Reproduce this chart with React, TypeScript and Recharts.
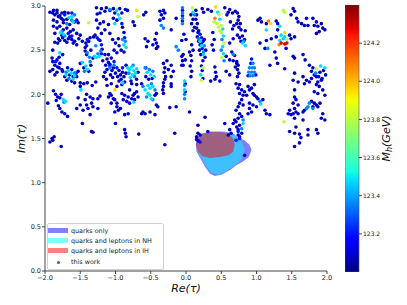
import React from 'react';
import {
  ScatterChart,
  BarChart,
  Bar,
  Scatter,
  XAxis,
  YAxis,
  Legend,
  Curve,
} from 'recharts';

type Pt = [number, number];

const FONT = '"DejaVu Sans", sans-serif';

const xTicks = [-2, -1.5, -1, -0.5, 0, 0.5, 1, 1.5, 2];
const yTicks = [0, 0.5, 1, 1.5, 2, 2.5, 3];
const cbTicks = [123.2, 123.4, 123.6, 123.8, 124.0, 124.2];
const cbMin = 123.0;
const cbMax = 124.4;

const legendLabels = ['quarks only', 'quarks and leptons in NH', 'quarks and leptons in IH', 'this work'];

// allowed regions from earlier fits (Re tau, Im tau)
const quarksOnlyEdge: Pt[] = [
  [0.14, 1.43], [0.15, 1.5], [0.2, 1.55], [0.34, 1.58], [0.53, 1.58], [0.67, 1.56], [0.75, 1.5],
  [0.83, 1.48], [0.9, 1.43], [0.93, 1.37], [0.89, 1.29], [0.81, 1.24], [0.72, 1.2], [0.62, 1.14],
  [0.5, 1.09], [0.41, 1.075], [0.34, 1.1], [0.27, 1.18], [0.2, 1.28], [0.15, 1.35],
];
const nhEdge: Pt[] = [
  [0.15, 1.43], [0.17, 1.52], [0.24, 1.56], [0.38, 1.565], [0.57, 1.565], [0.69, 1.54], [0.79, 1.46],
  [0.83, 1.39], [0.82, 1.31], [0.76, 1.24], [0.67, 1.18], [0.55, 1.12], [0.46, 1.09], [0.36, 1.11],
  [0.29, 1.18], [0.22, 1.28], [0.16, 1.35],
];
const ihEdge: Pt[] = [
  [0.14, 1.43], [0.16, 1.5], [0.22, 1.55], [0.34, 1.57], [0.48, 1.57], [0.6, 1.56], [0.67, 1.5],
  [0.69, 1.43], [0.67, 1.35], [0.6, 1.31], [0.48, 1.29], [0.34, 1.28], [0.23, 1.3], [0.17, 1.35],
];

// scan points, grouped by their M_h colour
const navyPts: Pt[] = [
  [-1.93, 2.93], [-1.89, 2.92], [-1.83, 2.92], [-1.76, 2.92], [-1.72, 2.93], [-1.88, 2.95], [-1.83, 2.95],
  [-1.79, 2.89], [-1.86, 2.9], [-1.81, 2.88], [-1.88, 2.84], [-1.83, 2.82], [-1.77, 2.86], [-1.74, 2.84],
  [-1.69, 2.85], [-1.67, 2.92], [-1.58, 2.82], [-1.53, 2.81], [-1.65, 2.79], [-1.74, 2.81], [-1.88, 2.77],
  [-1.83, 2.75], [-1.79, 2.77], [-1.74, 2.73], [-1.69, 2.75], [-1.64, 2.71], [-1.6, 2.73], [-1.55, 2.69],
  [-1.5, 2.67], [-1.86, 2.69], [-1.76, 2.67], [-1.67, 2.63], [-1.62, 2.62], [-1.81, 2.63], [-1.75, 2.64],
  [-1.72, 2.61], [-1.65, 2.65], [-1.69, 2.59], [-1.6, 2.58], [-1.58, 2.6], [-1.55, 2.56], [-1.79, 2.61],
  [-1.82, 2.58], [-1.52, 2.63], [-1.47, 2.6], [-1.86, 2.59], [-1.89, 2.5],
  [-1.9, 2.41], [-1.89, 2.37], [-1.83, 2.39], [-1.8, 2.42], [-1.86, 2.33], [-1.82, 2.31], [-1.79, 2.35],
  [-1.89, 2.28], [-1.83, 2.25], [-1.76, 2.28], [-1.75, 2.45], [-1.8, 2.3], [-1.75, 2.26], [-1.68, 2.3],
  [-1.65, 2.22], [-1.55, 2.2], [-1.53, 2.26], [-1.72, 2.2], [-1.69, 2.16], [-1.62, 2.15], [-1.58, 2.13],
  [-1.5, 2.13], [-1.86, 2.22], [-1.93, 2.26],
  [-1.88, 2.04], [-1.85, 2.0], [-1.82, 1.97], [-1.79, 1.96], [-1.84, 1.93], [-1.77, 2.0], [-1.96, 1.9],
  [-1.81, 1.87], [-1.79, 1.84], [-1.76, 1.8], [-1.72, 1.78], [-1.68, 1.75], [-1.9, 1.5], [-1.89, 1.48],
  [-1.93, 1.46], [-1.87, 1.52], [-1.77, 1.41], [-1.47, 1.67], [-1.34, 1.58], [-1.32, 1.57], [-1.5, 2.09],
  [-1.45, 2.12], [-1.4, 2.13], [-1.33, 2.1], [-1.28, 2.14], [-1.41, 2.0], [-1.43, 1.94], [-1.41, 1.88],
  [-1.39, 1.84], [-1.34, 1.9], [-1.32, 1.86], [-1.46, 1.82], [-1.55, 1.84], [-1.5, 1.88], [-1.36, 1.97],
  [-1.32, 1.95], [-1.25, 1.95], [-1.22, 1.98], [-1.25, 1.84], [-1.53, 1.96], [-1.36, 1.77],
  [-1.27, 2.98], [-1.2, 2.97], [-1.13, 2.98], [-1.22, 2.92], [-1.15, 2.94], [-1.08, 2.95], [-1.27, 2.84],
  [-1.22, 2.8], [-1.17, 2.82], [-1.25, 2.75], [-1.15, 2.73], [-1.1, 2.79], [-1.08, 2.69], [-1.2, 2.69],
  [-1.29, 2.67], [-1.26, 2.91], [-1.43, 2.53], [-1.42, 2.58], [-1.36, 2.64], [-1.31, 2.65], [-1.22, 2.61],
  [-1.19, 2.51], [-1.32, 2.41], [-1.41, 2.45], [-1.43, 2.49], [-1.35, 2.5], [-1.38, 2.6], [-1.5, 2.35],
  [-1.45, 2.3], [-1.38, 2.26], [-1.35, 2.33],
  [-1.03, 2.97], [-0.94, 2.97], [-1.01, 2.92], [-0.91, 2.92], [-1.03, 2.86], [-0.98, 2.84], [-0.86, 2.96],
  [-0.83, 2.95], [-0.75, 2.82], [-0.73, 2.78], [-0.9, 2.76], [-0.88, 2.7], [-1.04, 2.62], [-1.0, 2.58],
  [-0.95, 2.55], [-0.92, 2.5], [-1.02, 2.5], [-0.98, 2.47], [-0.88, 2.48], [-0.96, 2.63], [-0.6, 2.9],
  [-0.57, 2.93],
  [-1.15, 2.45], [-1.12, 2.4], [-1.1, 2.36], [-1.12, 2.28], [-1.15, 2.25], [-1.05, 2.27], [-1.07, 2.22],
  [-1.03, 2.3], [-1.1, 2.45], [-1.06, 2.41], [-1.14, 2.33], [-1.17, 2.2], [-1.13, 2.17], [-1.04, 2.19],
  [-1.0, 2.24], [-0.97, 2.2], [-0.93, 2.22], [-0.95, 2.27], [-0.9, 2.25], [-0.92, 2.17], [-0.88, 2.2],
  [-0.85, 2.24], [-0.95, 2.15], [-0.85, 2.33], [-0.68, 2.25], [-0.7, 2.17], [-0.78, 2.15], [-1.08, 2.34],
  [-1.18, 2.38],
  [-1.08, 2.01], [-1.06, 1.99], [-1.1, 1.97], [-1.03, 1.95], [-1.01, 1.94], [-1.06, 1.9], [-0.98, 1.86],
  [-0.96, 1.82], [-1.01, 1.8], [-0.91, 2.01], [-0.87, 1.99], [-0.82, 1.97], [-0.89, 1.94], [-0.84, 1.92],
  [-0.8, 1.9], [-0.77, 1.95], [-0.75, 1.99], [-0.73, 2.01], [-0.7, 2.03], [-0.68, 1.97], [-0.73, 1.94],
  [-0.8, 2.05], [-0.91, 2.11], [-0.98, 2.09], [-0.87, 2.14], [-0.77, 2.12], [-0.7, 2.11], [-1.06, 2.12],
  [-0.82, 1.78], [-0.87, 1.77], [-1.12, 2.1], [-0.98, 1.9], [-0.93, 1.84], [-1.0, 1.67], [-0.87, 1.6],
  [-0.86, 1.56], [-0.85, 1.52], [-0.67, 1.55],
  [-0.63, 2.12], [-0.44, 1.99], [-0.42, 2.01], [-0.42, 1.88], [-0.4, 1.86], [-0.61, 1.8], [-0.58, 1.78],
  [-0.63, 1.78], [-0.51, 1.8], [-0.44, 1.77], [-0.57, 2.2], [-0.53, 2.17], [-0.48, 2.18], [-0.57, 2.3],
  [-0.58, 2.63], [-0.54, 2.6], [-0.56, 2.54], [-0.44, 2.62], [-0.42, 2.58], [-0.47, 2.56], [-0.4, 2.54],
  [-0.42, 2.52], [-0.42, 2.69], [-0.37, 2.94], [-0.35, 2.9], [-0.32, 2.86], [-0.37, 2.84], [-0.3, 2.92],
  [-0.32, 2.95],
  [-0.32, 2.13], [-0.32, 2.09], [-0.33, 2.05], [-0.32, 2.01], [-0.21, 2.12], [-0.21, 2.09], [-0.32, 2.35],
  [-0.3, 2.3], [-0.31, 2.25], [-0.29, 2.2], [-0.3, 2.17], [-0.21, 2.33], [-0.18, 2.26], [-0.21, 2.2],
  [-0.04, 2.45], [-0.01, 2.39], [-0.04, 2.33], [-0.23, 1.85], [-0.14, 1.86], [-0.3, 1.43], [-0.16, 1.56],
  [-0.27, 2.38], [-0.25, 2.28], [-0.21, 2.73], [-0.14, 2.86], [-0.06, 2.61], [-0.01, 2.12], [-0.01, 2.03],
  [-0.06, 2.43], [-0.05, 2.38], [-0.06, 2.33], [-0.03, 2.68], [0.0, 2.62],
  [0.14, 2.95], [0.15, 2.9], [0.14, 2.85], [0.16, 2.8], [0.15, 2.75], [0.17, 2.7], [0.16, 2.65],
  [0.18, 2.6], [0.07, 2.9], [0.1, 2.85], [0.08, 2.8], [0.12, 2.76], [0.1, 2.72], [0.23, 2.97],
  [0.25, 2.93], [0.31, 2.96], [0.36, 2.94], [0.18, 2.72], [0.24, 2.6], [0.2, 2.56], [0.27, 2.42],
  [0.24, 2.38], [0.28, 2.5], [0.19, 2.5], [0.26, 2.62], [0.21, 2.45], [0.08, 2.56], [0.1, 2.5],
  [0.05, 2.48], [0.07, 2.44], [0.08, 2.38], [0.06, 2.32], [0.08, 2.26], [0.07, 2.2], [0.22, 2.32],
  [0.23, 2.27], [0.24, 2.18],
  [0.38, 2.7], [0.4, 2.62], [0.37, 2.56], [0.39, 2.5], [0.41, 2.31], [0.42, 2.25], [0.43, 2.2],
  [0.41, 2.17], [0.55, 2.98], [0.6, 2.93], [0.58, 2.9], [0.67, 2.63], [0.62, 2.58], [0.57, 2.43],
  [0.62, 2.39], [0.57, 2.26], [0.62, 2.22], [0.62, 2.96], [0.66, 2.92], [0.7, 2.94], [0.63, 2.82],
  [0.68, 2.78], [0.72, 2.8], [0.66, 2.74], [0.65, 2.48], [0.69, 2.44], [0.67, 2.38], [0.72, 2.35],
  [0.7, 2.31], [0.48, 2.15], [0.35, 2.15],
  [0.73, 2.92], [0.75, 2.88], [0.74, 2.84], [0.77, 2.8], [0.75, 2.76], [0.78, 2.73], [0.84, 2.72],
  [0.73, 2.67], [0.76, 2.64], [0.8, 2.66], [0.78, 2.6], [0.83, 2.62], [0.72, 2.37], [0.74, 2.33],
  [0.73, 2.28], [0.75, 2.24], [0.73, 2.2],
  [0.71, 2.12], [0.76, 2.11], [0.74, 2.07], [0.79, 2.05], [0.76, 2.01], [0.81, 1.99], [0.88, 2.09],
  [0.9, 2.05], [0.93, 2.07], [0.95, 2.01], [0.97, 1.99], [1.0, 1.97], [1.02, 1.95], [0.83, 2.03],
  [0.86, 1.99], [0.79, 1.94], [0.76, 1.9], [0.81, 1.88], [0.74, 1.86], [0.71, 1.82], [0.76, 1.78],
  [0.79, 1.75], [0.74, 1.73], [0.71, 1.69], [0.76, 1.65], [0.74, 1.6], [0.79, 1.56], [0.76, 1.52],
  [0.9, 1.84], [0.93, 1.8], [0.88, 1.78], [0.97, 2.11],
  [0.17, 1.65], [0.17, 1.56], [0.15, 1.52], [0.2, 1.54], [0.55, 1.67], [0.67, 1.67], [0.72, 1.63],
  [0.74, 1.54], [0.69, 1.71], [0.83, 1.31], [0.15, 1.49], [0.18, 1.47], [0.31, 1.58], [0.27, 1.74],
  [0.05, 1.8], [0.62, 1.6], [0.64, 1.56], [0.6, 1.54],
  [1.02, 2.84], [1.07, 2.82], [1.05, 2.86], [1.14, 2.8], [1.28, 2.83], [1.3, 2.8], [1.3, 2.73],
  [1.28, 2.65], [1.47, 2.67], [1.49, 2.63], [1.54, 2.65], [1.14, 2.61], [1.21, 2.63], [1.05, 2.58],
  [1.12, 2.52], [1.26, 2.48], [1.42, 2.52], [1.52, 2.43], [1.54, 2.41], [1.66, 2.45], [1.69, 2.39],
  [1.28, 2.41], [1.19, 2.33], [1.3, 2.35], [1.4, 2.29], [1.54, 2.24], [1.52, 2.97], [1.54, 2.94],
  [1.49, 2.9], [1.57, 2.86], [1.59, 2.82], [1.64, 2.8], [1.68, 2.78], [1.8, 2.86], [1.85, 2.82],
  [1.82, 2.78], [1.87, 2.77], [1.92, 2.8], [1.94, 2.75], [1.97, 2.73], [1.89, 2.71], [1.85, 2.69],
  [1.71, 2.86], [1.73, 2.78],
  [1.75, 2.33], [1.8, 2.3], [1.9, 2.25], [1.95, 2.27], [1.88, 2.2], [1.93, 2.18], [1.98, 2.22],
  [1.82, 2.22], [1.78, 2.18], [1.78, 2.26], [1.85, 2.2], [1.92, 2.16], [1.87, 2.14],
  [1.52, 2.16], [1.59, 2.14], [1.66, 2.2], [1.71, 2.16], [1.68, 2.12], [1.75, 2.14], [1.85, 2.11],
  [1.89, 2.09], [1.94, 2.05], [1.87, 2.01], [1.82, 2.03], [1.97, 1.99], [1.54, 1.97], [1.56, 1.94],
  [1.52, 1.9], [1.59, 1.88], [1.54, 1.84], [1.56, 1.8], [1.59, 1.78], [1.52, 1.78], [1.78, 1.92],
  [1.82, 1.9], [1.85, 1.88], [1.87, 1.86], [1.8, 1.86], [1.9, 1.9], [1.68, 1.82], [1.66, 1.8],
  [1.94, 1.78], [1.92, 1.73], [1.97, 1.71], [1.66, 1.71], [1.47, 1.58], [1.54, 1.56], [1.56, 1.63],
  [1.73, 1.6], [1.73, 1.54], [1.61, 1.45], [1.54, 1.41], [1.45, 1.78], [1.54, 2.05], [1.47, 1.82],
  [1.49, 1.77], [1.54, 1.73], [1.85, 1.6], [1.87, 1.56], [1.61, 1.55], [1.63, 1.51], [1.12, 1.82],
  [1.14, 1.78], [1.19, 1.77], [0.9, 1.9], [0.95, 1.88], [1.0, 1.86], [1.09, 1.94],
];

const bluePts: Pt[] = [
  [-1.62, 2.92], [-1.72, 2.9], [-1.55, 2.84], [-1.67, 2.69], [-1.62, 2.66], [-1.6, 2.2], [-1.62, 2.28],
  [-1.56, 2.24], [-1.85, 2.37], [-1.4, 2.62], [-1.26, 2.64], [-1.2, 2.56], [-1.2, 2.46], [-1.24, 2.62],
  [-1.41, 2.55], [-0.87, 2.64], [-0.91, 2.8], [-1.08, 2.32], [-1.02, 2.37], [-0.98, 2.3], [-0.9, 2.3],
  [-0.05, 2.95], [-0.05, 2.89], [-0.05, 2.83], [0.2, 2.68], [0.22, 2.64], [0.23, 2.52], [0.22, 2.58],
  [0.93, 2.4], [0.92, 2.35], [0.88, 2.21], [0.99, 2.22], [0.74, 1.58], [0.76, 1.5], [0.71, 1.48],
  [0.2, 1.46],
];

const lightPts: Pt[] = [
  [-1.62, 2.84], [-1.58, 2.9], [-1.69, 2.8], [-1.72, 2.66], [-1.76, 2.71], [-1.7, 2.25], [-1.66, 2.18],
  [-1.58, 2.24], [-1.73, 1.91], [-1.37, 2.42], [-1.25, 2.46], [-1.21, 2.49], [-1.28, 2.55], [-1.4, 2.47],
  [-1.44, 2.26], [-1.36, 2.37], [-0.9, 2.62], [-0.86, 2.6], [-1.08, 2.96], [-1.08, 2.3], [-1.02, 2.33],
  [-0.81, 2.24], [-0.73, 2.2], [-0.75, 2.33], [-0.61, 2.09], [-0.49, 2.12], [-0.44, 2.05], [-0.47, 1.94],
  [-0.56, 1.97], [-0.58, 2.3], [-0.52, 2.28], [-0.47, 2.26], [-0.35, 2.78], [-0.32, 2.75], [-0.14, 2.54],
  [-0.11, 2.5], [-0.02, 2.1], [-0.02, 2.0], [-0.02, 1.95], [-0.05, 2.98], [-0.05, 2.92], [-0.05, 2.86],
  [-0.05, 2.8], [0.12, 2.9], [0.26, 2.55], [0.25, 2.48], [0.18, 2.63], [0.51, 2.62], [0.5, 2.5],
  [0.54, 2.38], [0.67, 2.45], [0.82, 2.6], [0.95, 2.35], [0.9, 2.3], [0.94, 2.3], [0.97, 2.3],
  [0.89, 2.25], [0.93, 2.25], [0.97, 2.25], [0.91, 2.21], [0.95, 2.21], [1.05, 1.92], [0.81, 1.71],
  [0.79, 1.61], [1.16, 2.52], [1.84, 2.24], [1.73, 1.86], [1.71, 1.84], [1.75, 1.9], [1.8, 1.84],
];

const cyanPts: Pt[] = [
  [-1.62, 2.88], [-1.6, 2.82], [-1.66, 2.87], [-1.74, 2.68], [-1.78, 2.7], [-1.79, 2.47], [-1.7, 2.22],
  [-1.63, 2.24], [-1.58, 2.21], [-1.67, 2.27], [-1.6, 2.17], [-1.74, 1.94], [-1.71, 1.92], [-1.49, 2.05],
  [-1.27, 2.42], [-1.23, 2.43], [-1.3, 2.43], [-1.47, 2.36], [-1.42, 2.32], [-1.4, 2.28], [-0.98, 2.95],
  [-0.96, 2.9], [-0.94, 2.86], [-1.01, 2.8], [-0.88, 2.56], [-0.85, 2.53], [-0.83, 2.3], [-0.8, 2.28],
  [-0.77, 2.31], [-0.74, 2.27], [-0.76, 2.22], [-0.72, 2.24], [-0.79, 2.19], [-0.7, 2.29], [-0.9, 2.13],
  [-0.74, 1.91], [-0.58, 2.05], [-0.54, 2.1], [-0.51, 2.07], [-0.47, 2.09], [-0.51, 1.99], [-0.49, 1.95],
  [-0.54, 2.01], [-0.55, 2.25], [-0.5, 2.22], [-0.45, 2.2], [-0.02, 2.15], [-0.02, 2.05], [0.1, 2.93],
  [0.22, 2.55], [0.25, 2.45], [0.2, 2.6], [0.21, 2.22], [0.45, 2.93], [0.48, 2.85], [0.52, 2.74],
  [0.53, 2.66], [0.52, 2.54], [0.53, 2.46], [0.8, 2.58], [0.84, 2.55], [1.06, 1.89], [0.81, 1.67],
  [1.14, 2.73], [1.33, 2.77], [1.35, 2.67], [1.38, 2.63], [1.4, 2.65], [1.33, 2.61], [1.91, 2.32],
  [1.97, 2.3],
];

const greenPts: Pt[] = [
  [-1.38, 2.81], [-0.68, 2.88], [0.09, 2.98], [0.24, 2.3], [0.22, 2.16], [0.4, 2.82], [0.44, 2.8],
  [0.46, 2.76], [0.48, 2.72], [0.47, 2.9], [0.5, 2.78], [0.5, 2.7], [0.54, 2.58], [0.51, 2.42],
  [1.38, 2.95], [1.4, 2.93], [1.43, 2.62], [1.85, 2.29], [1.39, 1.69],
];
const yellowPts: Pt[] = [[-0.7, 2.95], [-1.01, 2.05], [0.42, 2.99], [1.4, 2.7], [1.2, 2.8]];
const orangePts: Pt[] = [[0.41, 2.86], [1.17, 2.83], [1.32, 2.56]];
const redPts: Pt[] = [[1.35, 2.58], [1.4, 2.57], [1.43, 2.58]];

// M_h (GeV) of each colour group
const groupMass = [123.08, 123.2, 123.36, 123.48, 123.8, 123.95, 124.08, 124.27];
const groups = [navyPts, bluePts, lightPts, cyanPts, greenPts, yellowPts, orangePts, redPts];

const lerp = (t: number, xs: number[], ys: number[]) => {
  if (t <= xs[0]) return ys[0];
  for (let i = 1; i < xs.length; i++) {
    if (t <= xs[i]) return ys[i - 1] + ((ys[i] - ys[i - 1]) * (t - xs[i - 1])) / (xs[i] - xs[i - 1]);
  }
  return ys[ys.length - 1];
};

const jetAt = (t: number) => {
  const r = lerp(t, [0, 0.35, 0.66, 0.89, 1], [0, 0, 1, 1, 0.5]);
  const g = lerp(t, [0, 0.125, 0.375, 0.64, 0.91, 1], [0, 0, 1, 1, 0, 0]);
  const b = lerp(t, [0, 0.11, 0.34, 0.65, 1], [0.5, 1, 1, 0, 0]);
  return `rgb(${Math.round(r * 255)},${Math.round(g * 255)},${Math.round(b * 255)})`;
};
const jet = (m: number) => jetAt((m - cbMin) / (cbMax - cbMin));
const jetStops = [0, 0.11, 0.125, 0.34, 0.35, 0.375, 0.64, 0.65, 0.66, 0.89, 0.91, 1];

const toRows = (pts: Pt[]) => pts.map(([x, y]) => ({ x, y }));
const cbRows = [{ name: 'Mh', range: [cbMin, cbMax] }];

const fmt = (v: number) => (v < 0 ? '\u2212' + Math.abs(v).toFixed(1) : v.toFixed(1));

const tickStyle = { fontSize: 6.5, fill: '#222', fontFamily: FONT };

const dot = (color: string) => (p: any) => <circle cx={p.cx} cy={p.cy} r={1.8} fill={color} />;
const noShape = () => <g />;
const blob = (color: string) => (p: any) => (
  <Curve points={p.points} type="linearClosed" fill={color} fillOpacity={0.5} stroke="none" />
);

const xLabel = (p: any) => {
  const vb = p.viewBox;
  return (
    <text x={vb.x + vb.width / 2} y={vb.y + 21} textAnchor="middle" fontSize={11} fontStyle="italic" fontFamily={FONT} fill="#111">
      Re(τ)
    </text>
  );
};

const yLabel = (p: any) => {
  const vb = p.viewBox;
  const x = vb.x + 10;
  const y = vb.y + vb.height / 2;
  return (
    <text x={x} y={y} transform={`rotate(-90 ${x} ${y})`} textAnchor="middle" fontSize={11} fontStyle="italic" fontFamily={FONT} fill="#111">
      Im(τ)
    </text>
  );
};

const cbLabel = (p: any) => {
  const vb = p.viewBox;
  const x = vb.x + 31;
  const y = vb.y + vb.height / 2;
  return (
    <text x={x} y={y} transform={`rotate(-90 ${x} ${y})`} textAnchor="middle" fontSize={11} fontStyle="italic" fontFamily={FONT} fill="#111">
      M<tspan fontSize={8} dy={2}>h</tspan>
      <tspan dy={-2}>(GeV)</tspan>
    </text>
  );
};

const legendSwatches = ['rgba(0,0,255,0.5)', 'rgba(0,255,255,0.5)', 'rgba(255,0,0,0.5)'];

const renderLegend = () => (
  <div
    style={{
      background: 'rgba(255,255,255,0.85)',
      border: '1px solid #d0d0d0',
      borderRadius: 2,
      padding: '1.5px 4px 1px 0',
      fontFamily: FONT,
      fontSize: 6.4,
      color: '#222',
      width: 111,
    }}
  >
    {legendLabels.map((label, i) => (
      <div key={label} style={{ display: 'flex', alignItems: 'center', height: i === 3 ? 11.5 : 10, marginTop: i === 3 ? 1 : 0 }}>
        <div style={{ width: 20, display: 'flex', justifyContent: 'center', marginRight: 3 }}>
          {i < 3 ? (
            <div style={{ width: 20, height: 5.5, background: legendSwatches[i] }} />
          ) : (
            <div style={{ width: 3, height: 3, borderRadius: '50%', background: '#1f5fd0' }} />
          )}
        </div>
        <span style={{ whiteSpace: 'nowrap' }}>{label}</span>
      </div>
    ))}
  </div>
);

export default function App() {
  return (
    <div style={{ position: 'absolute', left: 0, top: 0, width: 407, height: 305, background: '#fff' }}>
      <div style={{ position: 'absolute', left: 0, top: 0 }}>
        <ScatterChart width={407} height={305} margin={{ top: 6, right: 80, bottom: 0, left: 15 }}>
          <XAxis
            type="number"
            dataKey="x"
            domain={[-2, 2]}
            ticks={xTicks}
            interval={0}
            tickFormatter={fmt}
            height={34}
            tick={tickStyle}
            tickSize={3}
            tickMargin={1}
            axisLine={{ stroke: '#444' }}
            tickLine={{ stroke: '#444' }}
            label={xLabel}
          />
          <YAxis
            type="number"
            dataKey="y"
            domain={[0, 3]}
            ticks={yTicks}
            interval={0}
            tickFormatter={fmt}
            width={30}
            tick={tickStyle}
            tickSize={3}
            tickMargin={1}
            axisLine={{ stroke: '#444' }}
            tickLine={{ stroke: '#444' }}
            label={yLabel}
          />
          <XAxis xAxisId="top" orientation="top" type="number" domain={[-2, 2]} height={0} tick={false} tickLine={false} axisLine={{ stroke: '#999', strokeWidth: 1.5 }} />
          <YAxis yAxisId="right" orientation="right" type="number" domain={[0, 3]} width={0} tick={false} tickLine={false} axisLine={{ stroke: '#999', strokeWidth: 1.5 }} />
          <Scatter data={toRows(quarksOnlyEdge)} shape={noShape} line={blob('#0000ff')} lineType="joint" isAnimationActive={false} />
          <Scatter data={toRows(nhEdge)} shape={noShape} line={blob('#00ffff')} lineType="joint" isAnimationActive={false} />
          <Scatter data={toRows(ihEdge)} shape={noShape} line={blob('#ff0000')} lineType="joint" isAnimationActive={false} />
          {groups.map((pts, i) => (
            <Scatter key={i} data={toRows(pts)} shape={dot(jet(groupMass[i]))} isAnimationActive={false} />
          ))}
          <Legend
            layout="vertical"
            align="center"
            verticalAlign="middle"
            content={renderLegend}
            wrapperStyle={{ left: 47, top: 223, width: 'auto', height: 'auto' }}
          />
        </ScatterChart>
      </div>
      <div style={{ position: 'absolute', left: 345, top: 0 }}>
        <BarChart width={62} height={305} data={cbRows} barCategoryGap={0} margin={{ top: 5, right: 28, bottom: 33, left: 0 }}>
          <defs>
            <linearGradient id="jetGrad" x1="0" y1="1" x2="0" y2="0">
              {jetStops.map((t) => (
                <stop key={t} offset={t} stopColor={jetAt(t)} />
              ))}
            </linearGradient>
          </defs>
          <XAxis dataKey="name" hide />
          <YAxis
            type="number"
            orientation="right"
            domain={[cbMin, cbMax]}
            allowDataOverflow
            ticks={cbTicks}
            interval={0}
            tickFormatter={(v: number) => v.toFixed(1)}
            width={20}
            tick={{ fontSize: 6, fill: '#222', fontFamily: FONT }}
            tickSize={3}
            tickMargin={1}
            axisLine={false}
            tickLine={{ stroke: '#444' }}
            label={cbLabel}
          />
          <Bar dataKey="range" fill="url(#jetGrad)" stroke="#555" strokeWidth={0.6} isAnimationActive={false} />
        </BarChart>
      </div>
    </div>
  );
}
